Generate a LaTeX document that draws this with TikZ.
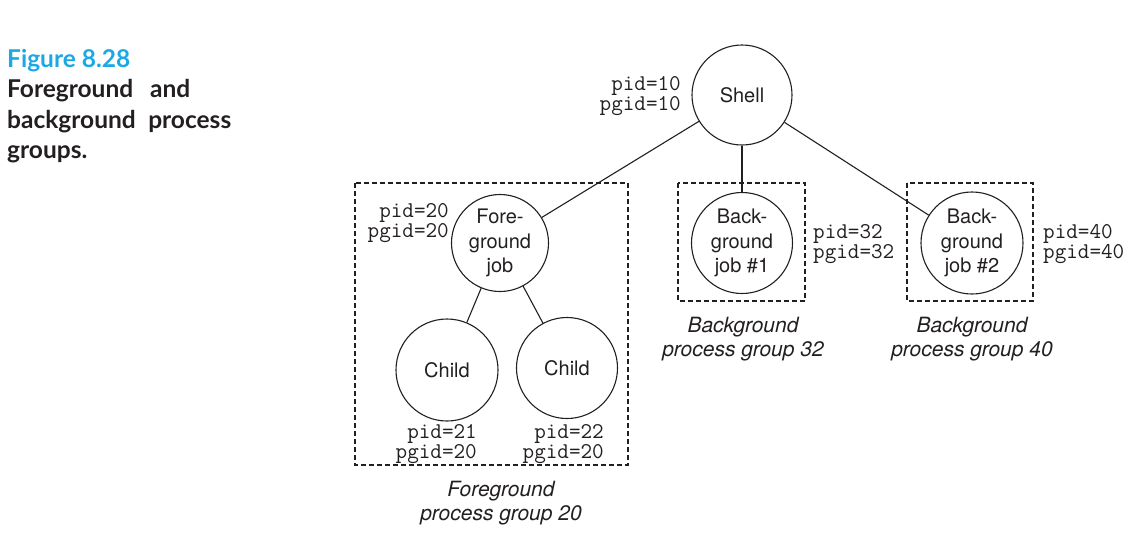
\documentclass[tikz,border=0pt]{standalone}
\usepackage{fontspec}
\setsansfont{TeX Gyre Heros}
\newfontfamily\capfont{Lato}
\definecolor{figblue}{RGB}{28,168,228}
\definecolor{ink}{RGB}{35,31,32}
\begin{document}
\lineskiplimit=-100pt
\begin{tikzpicture}[x=1pt,y=-1pt,
  proc/.style={circle,draw=ink,line width=1.1pt,inner sep=0pt,align=center,
    font=\sffamily\fontsize{20}{24.5}\selectfont,text=ink},
  link/.style={draw=ink,line width=1.1pt},
  group/.style={draw=ink,line width=1.1pt,dash pattern=on 5pt off 3pt},
  ids/.style={inner sep=0pt,text=ink,
    font=\ttfamily\fontsize{22.5}{20}\selectfont},
  grouplabel/.style={inner sep=0pt,align=center,text=ink,
    font=\sffamily\itshape\fontsize{21}{24}\selectfont},
  captext/.style={inner sep=0pt,anchor=base west,
    font=\capfont\bfseries\fontsize{24.5}{30}\selectfont}
]
\useasboundingbox (0,0) rectangle (1146,542);

% caption
\node[captext,text=figblue] (capnum) at (7,67) {Figure 8.28};
\node[captext,text=ink] (cap1) at (7,97) {\makebox[183pt][l]{Foreground\hfill and}};
\node[captext,text=ink] (cap2) at (7,128) {\makebox[224pt][l]{background\hfill process}};
\node[captext,text=ink] (cap3) at (7,158) {groups.};

% process group boxes
\draw[group] (355,183) rectangle (628,465);
\draw[group] (678,183) rectangle (805,301);
\draw[group] (907,183) rectangle (1033,301);

% processes
\node[proc,minimum size=100pt] (shell) at (742,95) {Shell};
\node[proc,minimum size=97pt] (fg) at (500,243) {Fore-\\ground\\job};
\node[proc,minimum size=102pt] (c1) at (447,370) {Child};
\node[proc,minimum size=101pt] (c2) at (567,368) {Child};
\node[proc,minimum size=101pt] (bg1) at (742,243) {Back-\\ground\\job \#1};
\node[proc,minimum size=102pt] (bg2) at (972,243) {Back-\\ground\\job \#2};

% tree edges
\draw[link] (shell) -- (fg);
\draw[link] (shell) -- (bg1);
\draw[link] (shell) -- (bg2);
\draw[link] (fg) -- (c1);
\draw[link] (fg) -- (c2);

% process ids
\node[ids,anchor=east,align=right] (shellid) at (681,96) {pid=10\\pgid=10};
\node[ids,anchor=east,align=right] (fgid) at (449,223) {pid=20\\pgid=20};
\node[ids,anchor=east,align=right] (c1id) at (477,444) {pid=21\\pgid=20};
\node[ids,anchor=east,align=right] (c2id) at (604,444) {pid=22\\pgid=20};
\node[ids,anchor=west,align=left] (bg1id) at (813,244) {pid=32\\pgid=32};
\node[ids,anchor=west,align=left] (bg2id) at (1043,244) {pid=40\\pgid=40};

% group names
\node[grouplabel] (fgname) at (501,503) {Foreground\\process group 20};
\node[grouplabel] (bg1name) at (743,339) {Background\\process group 32};
\node[grouplabel] (bg2name) at (972,339) {Background\\process group 40};
\end{tikzpicture}
\end{document}
